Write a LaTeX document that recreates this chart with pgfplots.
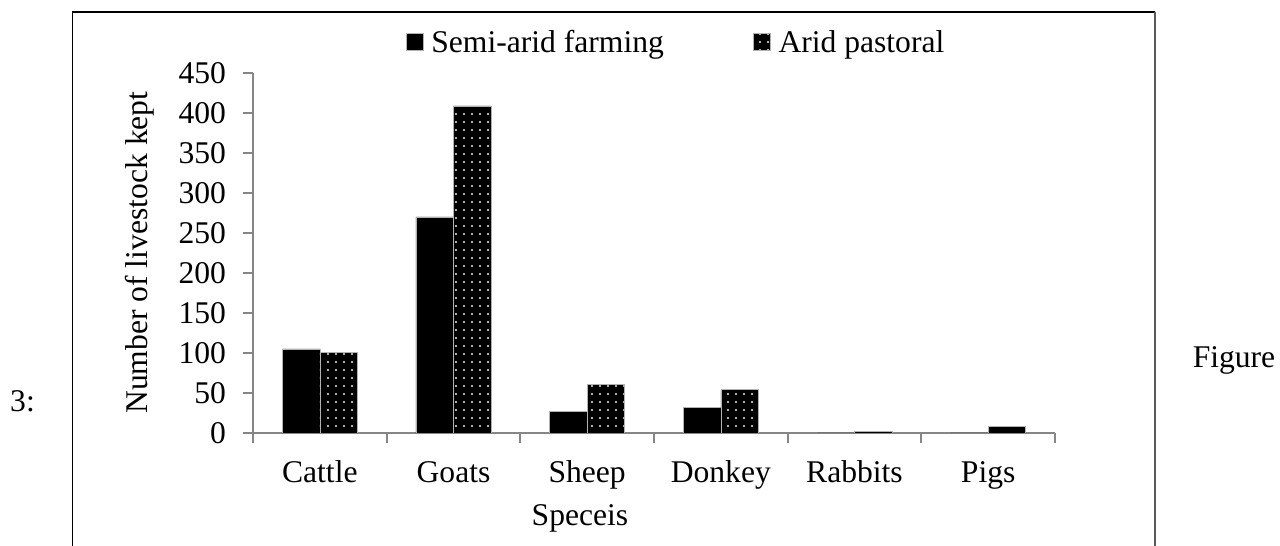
\documentclass[border=0pt]{standalone}
\usepackage{pgfplots}
\pgfplotsset{compat=1.18}
\usepackage{fontspec}
\setmainfont{Liberation Serif}
\usetikzlibrary{patterns}
\pgfdeclarepatternformonly{whitedots}{\pgfqpoint{-1pt}{-1pt}}{\pgfqpoint{1pt}{1pt}}{\pgfqpoint{4pt}{4pt}}{\pgfpathcircle{\pgfqpoint{0pt}{0pt}}{0.6pt}\pgfusepath{fill}}
\newcommand\fs{\fontsize{15.8pt}{19pt}\selectfont}
\definecolor{axgray}{RGB}{134,134,134}
\begin{document}
\begin{tikzpicture}
\path[use as bounding box] (0pt,0pt) rectangle (640pt,273pt);
\draw[line width=0.6pt] (36.3pt,-3pt) -- (36.3pt,267pt) -- (577.3pt,267pt);
\draw[line width=1pt, black!65] (577.3pt,267.2pt) -- (577.3pt,-3pt);
\node[font=\fs] at (617pt,92.8pt) {Figure};
\node[font=\fs] at (11.25pt,72.25pt) {3:};
\begin{axis}[
  at={(126.5pt,56.5pt)}, anchor=origin,
  width=401pt, height=180pt, scale only axis,
  xmin=0, xmax=6, ymin=0, ymax=450,
  axis lines*=left,
  axis line style={axgray, line width=0.9pt},
  ytick={0,50,...,450},
  xtick={0.5,1.5,...,5.5},
  xticklabels={Cattle,Goats,Sheep,Donkey,Rabbits,Pigs},
  minor xtick={0,1,...,6},
  major x tick style={draw=none},
  tick style={axgray, line width=0.9pt},
  tick align=outside,
  major tick length=5pt, minor tick length=5pt,
  ticklabel style={font=\fs},
  /pgf/number format/assume math mode=true,
  xticklabel style={anchor=center, text height=11pt, text depth=3.5pt, yshift=-16.2pt},
  yticklabel style={anchor=east, xshift=-5pt},
  ybar=0pt, bar width=18.75pt,
  xlabel={Speceis},
  xlabel style={font=\fs, at={(axis description cs:0.4077,-0.237)}, anchor=center},
  ylabel={Number of livestock kept},
  ylabel style={font=\fs, at={(axis description cs:-0.141,0.501)}, anchor=center},
  legend columns=2,
  legend style={draw=none, fill=none, font=\fs, inner sep=0pt,
    at={(axis description cs:0.19,1.083)}, anchor=west,
    /tikz/every even column/.append style={column sep=42.5pt}},
  legend image code/.code={\draw[#1] (0pt,-3.5pt) rectangle (8.5pt,5pt); \path (10.5pt,0pt);},
]
\addplot[fill=black, draw=gray!60, line width=0.3pt]
  coordinates {(0.5,105) (1.5,270) (2.5,27) (3.5,32) (4.5,0) (5.5,0)};
\addplot[fill=black, draw=gray!60, line width=0.3pt,
  postaction={pattern=whitedots, pattern color=white!85!gray}]
  coordinates {(0.5,101) (1.5,409) (2.5,61) (3.5,54) (4.5,2) (5.5,8)};
\legend{Semi-arid farming, Arid pastoral}
\end{axis}
\end{tikzpicture}
\end{document}
